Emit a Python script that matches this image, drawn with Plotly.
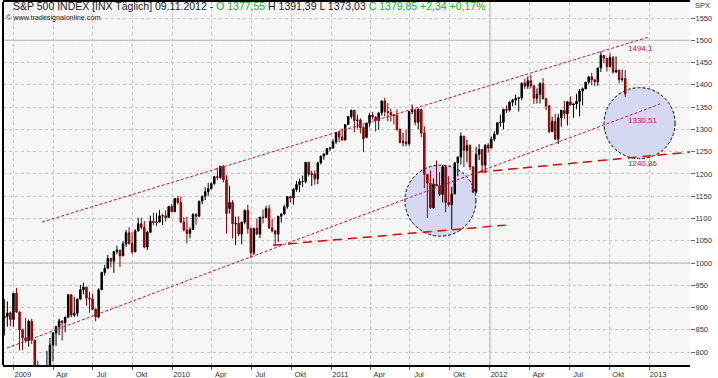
import pandas as pd
import plotly.graph_objects as go

# ---- weekly S&P 500 candles, week centres (Wednesdays) ----
week_start = "2008-12-10"
week_end = "2012-11-07"

opens = [
    876, 880, 888,
    873, 932, 890, 850, 832, 826, 869, 827, 770, 735, 683, 757, 769, 816, 843, 857, 870, 866, 878, 929, 883, 887,
    919, 940, 946, 921, 919, 896, 879, 940, 979, 988, 1010, 1004, 1026, 1029, 1016, 1043, 1068, 1044, 1025, 1072,
    1088, 1080, 1036, 1069, 1094, 1091, 1092, 1106, 1106, 1102, 1127,
    1115, 1145, 1136, 1092, 1074, 1066, 1075, 1109, 1105, 1139, 1150, 1160, 1167, 1178, 1194, 1192, 1217, 1187,
    1122, 1136, 1088, 1089, 1065, 1092, 1118, 1077, 1023, 1078, 1065, 1103, 1102, 1122, 1079, 1072, 1065, 1105,
    1110, 1126, 1149, 1146, 1165, 1176, 1183, 1183, 1226, 1199, 1200, 1189, 1225, 1240, 1244, 1257,
    1258, 1272, 1293, 1283, 1276, 1311, 1329, 1343, 1320, 1321, 1304, 1282, 1314, 1332, 1328, 1320, 1337, 1364,
    1340, 1338, 1333, 1331, 1300, 1271, 1272, 1268, 1340, 1344, 1316, 1345, 1292, 1199, 1179, 1124, 1177, 1174,
    1154, 1216, 1136, 1131, 1155, 1225, 1238, 1285, 1253, 1264, 1216, 1159, 1244, 1255, 1220, 1265,
    1258, 1278, 1289, 1315, 1316, 1345, 1343, 1361, 1366, 1370, 1371, 1404, 1397, 1409, 1398, 1370, 1379, 1403,
    1369, 1353, 1295, 1318, 1278, 1326, 1343, 1335, 1362, 1355, 1357, 1363, 1386, 1391, 1406, 1418, 1411, 1407,
    1438, 1466, 1460, 1441, 1461, 1429, 1433, 1412, 1414,
]
highs = [
    919, 914, 891,
    932, 944, 891, 852, 877, 873, 875, 827, 780, 739, 758, 803, 832, 845, 857, 875, 871, 880, 930, 930, 924, 920,
    951, 956, 946, 935, 931, 898, 943, 979, 996, 1018, 1012, 1027, 1039, 1029, 1049, 1074, 1080, 1069, 1076, 1101,
    1101, 1094, 1072, 1106, 1113, 1112, 1119, 1110, 1118, 1127, 1133,
    1145, 1150, 1150, 1103, 1104, 1080, 1112, 1112, 1139, 1151, 1170, 1180, 1181, 1195, 1214, 1217, 1220, 1197,
    1173, 1141, 1104, 1105, 1092, 1120, 1131, 1080, 1078, 1099, 1103, 1120, 1128, 1130, 1100, 1074, 1105, 1111,
    1131, 1149, 1151, 1168, 1184, 1190, 1196, 1227, 1227, 1207, 1208, 1226, 1241, 1247, 1257, 1260,
    1278, 1294, 1297, 1302, 1311, 1330, 1344, 1343, 1332, 1325, 1308, 1314, 1337, 1339, 1329, 1338, 1364, 1371,
    1359, 1346, 1334, 1345, 1302, 1292, 1299, 1341, 1356, 1344, 1347, 1345, 1307, 1199, 1208, 1190, 1230, 1204,
    1220, 1220, 1195, 1171, 1225, 1239, 1293, 1285, 1277, 1266, 1216, 1261, 1267, 1255, 1266, 1269,
    1284, 1296, 1315, 1333, 1346, 1354, 1363, 1368, 1378, 1372, 1405, 1414, 1419, 1422, 1398, 1392, 1406, 1415,
    1370, 1354, 1328, 1335, 1335, 1343, 1364, 1362, 1374, 1357, 1380, 1391, 1394, 1406, 1418, 1427, 1413, 1438,
    1475, 1467, 1460, 1471, 1465, 1464, 1434, 1434, 1433,
]
lows = [
    837, 857, 858,
    857, 888, 804, 804, 821, 812, 818, 754, 733, 667, 672, 747, 768, 779, 814, 838, 826, 845, 878, 878, 879, 880,
    917, 930, 904, 888, 896, 869, 876, 940, 972, 987, 990, 978, 1020, 991, 1016, 1036, 1041, 1020, 1025, 1071,
    1075, 1033, 1029, 1069, 1085, 1083, 1091, 1085, 1093, 1102, 1115,
    1115, 1131, 1090, 1071, 1044, 1056, 1075, 1086, 1105, 1132, 1141, 1151, 1165, 1176, 1186, 1188, 1181, 1066,
    1111, 1055, 1040, 1060, 1042, 1087, 1066, 1011, 1018, 1063, 1056, 1089, 1101, 1076, 1069, 1040, 1047, 1091,
    1109, 1122, 1136, 1131, 1160, 1159, 1171, 1179, 1194, 1173, 1176, 1177, 1221, 1232, 1243, 1251,
    1257, 1267, 1271, 1275, 1276, 1311, 1324, 1294, 1302, 1291, 1249, 1281, 1306, 1322, 1295, 1299, 1331, 1329,
    1318, 1318, 1311, 1297, 1268, 1262, 1262, 1263, 1334, 1309, 1300, 1282, 1168, 1101, 1121, 1122, 1172, 1150,
    1136, 1114, 1127, 1075, 1155, 1195, 1221, 1215, 1226, 1209, 1158, 1158, 1231, 1203, 1202, 1248,
    1258, 1274, 1289, 1306, 1300, 1337, 1340, 1352, 1354, 1340, 1366, 1391, 1391, 1392, 1357, 1358, 1358, 1367,
    1343, 1292, 1295, 1277, 1267, 1306, 1324, 1309, 1354, 1326, 1345, 1329, 1354, 1391, 1401, 1399, 1397, 1398,
    1429, 1449, 1430, 1439, 1425, 1427, 1403, 1407, 1373,
]
closes = [
    880, 888, 873,
    932, 890, 850, 832, 826, 869, 827, 770, 735, 683, 757, 769, 816, 843, 857, 870, 866, 878, 929, 883, 887, 919,
    940, 946, 921, 919, 896, 879, 940, 979, 988, 1010, 1004, 1026, 1029, 1016, 1043, 1068, 1044, 1025, 1072, 1088,
    1080, 1036, 1069, 1094, 1091, 1092, 1106, 1106, 1102, 1127, 1115,
    1145, 1136, 1092, 1074, 1066, 1075, 1109, 1105, 1139, 1150, 1160, 1167, 1178, 1194, 1192, 1217, 1187, 1111,
    1136, 1088, 1089, 1065, 1092, 1118, 1077, 1023, 1078, 1065, 1103, 1102, 1122, 1079, 1072, 1065, 1105, 1110,
    1126, 1149, 1146, 1165, 1176, 1183, 1183, 1226, 1199, 1200, 1189, 1225, 1240, 1244, 1257, 1258,
    1272, 1293, 1283, 1276, 1311, 1329, 1343, 1320, 1321, 1304, 1279, 1314, 1332, 1328, 1320, 1337, 1364, 1340,
    1338, 1333, 1331, 1300, 1271, 1272, 1268, 1340, 1344, 1316, 1345, 1292, 1199, 1179, 1124, 1177, 1174, 1154,
    1216, 1136, 1131, 1155, 1225, 1238, 1285, 1253, 1264, 1216, 1159, 1244, 1255, 1220, 1265, 1258,
    1278, 1289, 1315, 1316, 1345, 1343, 1361, 1366, 1370, 1371, 1404, 1397, 1409, 1398, 1370, 1379, 1403, 1369,
    1353, 1295, 1318, 1278, 1326, 1343, 1335, 1362, 1355, 1357, 1363, 1386, 1391, 1406, 1418, 1411, 1407, 1438,
    1466, 1460, 1441, 1461, 1429, 1433, 1412, 1414, 1380,
]

weeks = pd.date_range(week_start, week_end, freq="W-WED")
n = min(len(weeks), len(opens), len(highs), len(lows), len(closes))
weeks = weeks[:n]

# ---- trend lines (start/end points) ----
upper_channel_x = ["2009-03-07", "2012-12-30"]
upper_channel_y = [1092, 1507]
lower_channel_x = ["2008-12-16", "2013-01-26"]
lower_channel_y = [809, 1357]
support1_x = ["2010-08-20", "2012-02-05"]
support1_y = [1040, 1085]
support2_x = ["2011-12-05", "2013-04-05"]
support2_y = [1204, 1249]

line_labels = ["1494,1", "1330,51", "1240,86"]
line_label_y = [1482, 1321, 1224]
line_label_x = "2012-11-09"

# ---- axes ----
x_range = ["2008-12-07", "2013-04-05"]
y_range = [771, 1586]
y_ticks = list(range(800, 1551, 50))
x_tick_dates = ["2009-01-01", "2009-04-01", "2009-07-01", "2009-10-01",
                "2010-01-01", "2010-04-01", "2010-07-01", "2010-10-01",
                "2011-01-01", "2011-04-01", "2011-07-01", "2011-10-01",
                "2012-01-01", "2012-04-01", "2012-07-01", "2012-10-01",
                "2013-01-01"]
x_tick_text = ["2009", "Apr", "Jul", "Okt", "2010", "Apr", "Jul", "Okt",
               "2011", "Apr", "Jul", "Okt", "2012", "Apr", "Jul", "Okt", "2013"]

# circles: centre (date, value), radius in px
circle_centres = [("2011-09-09", 1140), ("2012-12-10", 1314)]
circle_radius_px = 35.5

FONT = "Liberation Sans"

fig = go.Figure()

fig.add_trace(go.Candlestick(
    x=weeks, open=opens[:n], high=highs[:n], low=lows[:n], close=closes[:n],
    increasing=dict(line=dict(color="#000000", width=1), fillcolor="#000000"),
    decreasing=dict(line=dict(color="#8a0000", width=1), fillcolor="#d40000"),
    whiskerwidth=0, showlegend=False, hoverinfo="skip",
))

for xs, ys, dash, w, col in [
    (upper_channel_x, upper_channel_y, "3px,2px", 1, "#d0103a"),
    (lower_channel_x, lower_channel_y, "3px,2px", 1, "#d0103a"),
    (support1_x, support1_y, "9px,6px", 1.5, "#e00000"),
    (support2_x, support2_y, "9px,6px", 1.5, "#e00000"),
]:
    fig.add_trace(go.Scatter(x=xs, y=ys, mode="lines",
                             line=dict(color=col, width=w, dash=dash),
                             showlegend=False, hoverinfo="skip"))

shapes = []
for cx, cy in circle_centres:
    shapes.append(dict(
        type="circle", xref="x", yref="y", xsizemode="pixel", ysizemode="pixel",
        xanchor=cx, yanchor=cy,
        x0=-circle_radius_px, x1=circle_radius_px,
        y0=-circle_radius_px, y1=circle_radius_px,
        fillcolor="#d5d8f3", line=dict(color="#000000", width=1, dash="3px,2px"),
        layer="between",
    ))
# solid horizontal reference lines and year separator
for lvl in (1000, 1500):
    shapes.append(dict(type="line", xref="paper", yref="y", x0=0, x1=1, y0=lvl, y1=lvl,
                       line=dict(color="#a9b7b7", width=1), layer="below"))
shapes.append(dict(type="line", xref="x", yref="paper", x0="2012-01-01", x1="2012-01-01",
                   y0=0, y1=1, line=dict(color="#a9b7b7", width=1), layer="below"))
# left border
shapes.append(dict(type="line", xref="paper", yref="paper", x0=0, x1=0, y0=0, y1=1,
                   line=dict(color="#000000", width=2)))

annotations = []
for txt, yy in zip(line_labels, line_label_y):
    annotations.append(dict(x=line_label_x, y=yy, xref="x", yref="y", text=txt,
                            showarrow=False, xanchor="left", yanchor="middle",
                            font=dict(family=FONT, size=8, color="#d0103a")))

green = "#22b422"
header = ("S&P 500 INDEX [INX Täglich] 09.11.2012 - "
          f"<span style='color:{green}'>O 1377,55</span> H 1391,39 L 1373,03 "
          f"<span style='color:{green}'>C 1379,85 +2,34 +0,17%</span>")
annotations.append(dict(x=0.012, y=0.99, xref="paper", yref="paper", text=header,
                        showarrow=False, xanchor="left", yanchor="middle",
                        font=dict(family=FONT, size=10.5, color="#222222")))
annotations.append(dict(x=0.001, y=0.957, xref="paper", yref="paper",
                        text="© www.tradesignalonline.com",
                        showarrow=False, xanchor="left", yanchor="middle",
                        font=dict(family=FONT, size=7.2, color="#222222")))
annotations.append(dict(x=1.004, y=0.99, xref="paper", yref="paper", text="SPX",
                        showarrow=False, xanchor="left", yanchor="middle",
                        font=dict(family=FONT, size=7.5, color="#333333")))

fig.update_layout(
    width=718, height=378,
    margin=dict(l=3, r=28, t=2, b=13, autoexpand=False),
    paper_bgcolor="#ffffff", plot_bgcolor="#f6f6f6",
    shapes=shapes, annotations=annotations,
    font=dict(family=FONT, size=7.5, color="#333333"),
    xaxis=dict(
        type="date", range=x_range, rangeslider=dict(visible=False),
        tickvals=x_tick_dates, ticktext=x_tick_text,
        ticks="outside", ticklen=3, tickcolor="#666666",
        showgrid=True, gridcolor="#c4c4c4", griddash="dot", gridwidth=1,
        showline=True, linecolor="#000000", linewidth=1.5, mirror=True,
        ticklabelshift=9, ticklabelstandoff=-2,
        tickfont=dict(family=FONT, size=7.5, color="#333333"),
        zeroline=False, fixedrange=True,
    ),
    yaxis=dict(
        side="right", range=y_range, tickvals=y_ticks,
        ticks="outside", ticklen=4, tickcolor="#666666",
        showgrid=True, gridcolor="#c4c4c4", griddash="dot", gridwidth=1,
        showline=False, zeroline=False, ticklabelstandoff=-1,
        tickfont=dict(family=FONT, size=7.5, color="#333333"),
        fixedrange=True,
    ),
)

fig.write_html(
    "out.html",
    config={"displayModeBar": False},
    post_script="document.body.style.margin='0';document.body.style.padding='0';",
)
